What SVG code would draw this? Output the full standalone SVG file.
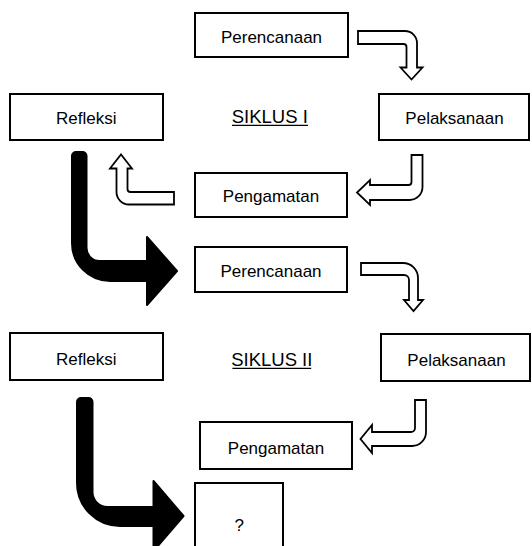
<svg xmlns="http://www.w3.org/2000/svg" width="532" height="546" viewBox="0 0 532 546">
<style>
.box{fill:#fff;stroke:#000;stroke-width:2}
.t{font-family:"Liberation Sans",Arial,sans-serif;font-size:17px;fill:#000;text-anchor:middle}
.s{font-family:"Liberation Sans",Arial,sans-serif;font-size:18.5px;fill:#000;text-anchor:middle}
.ul{stroke:#000;stroke-width:1.3}
.hollow{fill:#fff;stroke:#000;stroke-width:1.8;stroke-linejoin:miter}
.solid{fill:#000;stroke:#000;stroke-width:2;stroke-linejoin:round}
</style>
<rect width="532" height="546" fill="#fff"/>
<g id="connectors">
<path class="hollow" d="M358,31 H405 A12,12 0 0 1 417,43 V67.5 H422.5 L411.5,79.5 L400.5,67.5 H406.5 V47 A3,3 0 0 0 403.5,44 H358 Z"/>
<path class="hollow" d="M411.5,155 H422.5 V187 A13,13 0 0 1 409.5,200 H370 V205 L357,192.5 L370,180 V185 H408.5 A3,3 0 0 0 411.5,182 Z"/>
<path class="hollow" d="M174,192 H130.5 A3,3 0 0 1 127.5,189 V168.5 H132 L121,154.5 L110,168.5 H116.5 V192 A12.5,12.5 0 0 0 129,204.5 H174 Z"/>
<path class="hollow" d="M361,263 H403 A15,15 0 0 1 418,278 V300 H423 L413.5,311 L404,300 H409 V280 A5,5 0 0 0 404,275 H361 Z"/>
<path class="hollow" d="M415,400 H426 V432 A14,14 0 0 1 412,446 H372 V453 L360.5,439 L372,425 V432 H411 A4,4 0 0 0 415,428 Z"/>
<path class="solid" d="M72,156 A4,4 0 0 1 76,152 H82.5 A4,4 0 0 1 86.5,156 V248 A13,13 0 0 0 99.5,261 H147 V237 L177,271 L147,305 V281 H110 A38,38 0 0 1 72,243 Z"/>
<path class="solid" d="M77,402 A4,4 0 0 1 81,398 H88.5 A4,4 0 0 1 92.5,402 V492 A15,15 0 0 0 107.5,507 H153.5 V481 L183.5,516 L153.5,551 V526 H120 A43,43 0 0 1 77,483 Z"/>
</g>
<g id="perencanaan1"><rect class="box" x="195" y="13" width="153" height="44"/><text class="t" x="271.5" y="43">Perencanaan</text></g>
<g id="refleksi1"><rect class="box" x="10" y="94" width="153" height="46"/><text class="t" x="86.2" y="124">Refleksi</text></g>
<g id="siklus1"><text class="s" x="269.8" y="123">SIKLUS I</text><line class="ul" x1="232" y1="125.3" x2="308" y2="125.3"/></g>
<g id="pelaksanaan1"><rect class="box" x="379" y="94" width="150" height="46"/><text class="t" x="454.5" y="124">Pelaksanaan</text></g>
<g id="pengamatan1"><rect class="box" x="195" y="173" width="152" height="44"/><text class="t" x="271" y="201.7">Pengamatan</text></g>
<g id="perencanaan2"><rect class="box" x="195" y="247" width="152" height="45"/><text class="t" x="271" y="276.7">Perencanaan</text></g>
<g id="refleksi2"><rect class="box" x="10" y="333" width="153" height="47"/><text class="t" x="86.2" y="364.5">Refleksi</text></g>
<g id="siklus2"><text class="s" x="271.8" y="366">SIKLUS II</text><line class="ul" x1="232.4" y1="368.3" x2="311.2" y2="368.3"/></g>
<g id="pelaksanaan2"><rect class="box" x="381" y="334" width="149" height="47"/><text class="t" x="456.5" y="366">Pelaksanaan</text></g>
<g id="pengamatan2"><rect class="box" x="200" y="422" width="152" height="47"/><text class="t" x="276" y="453.6">Pengamatan</text></g>
<g id="unknown"><rect class="box" x="195" y="483" width="88" height="70"/><text class="t" x="239.2" y="530.6">?</text></g>
</svg>
